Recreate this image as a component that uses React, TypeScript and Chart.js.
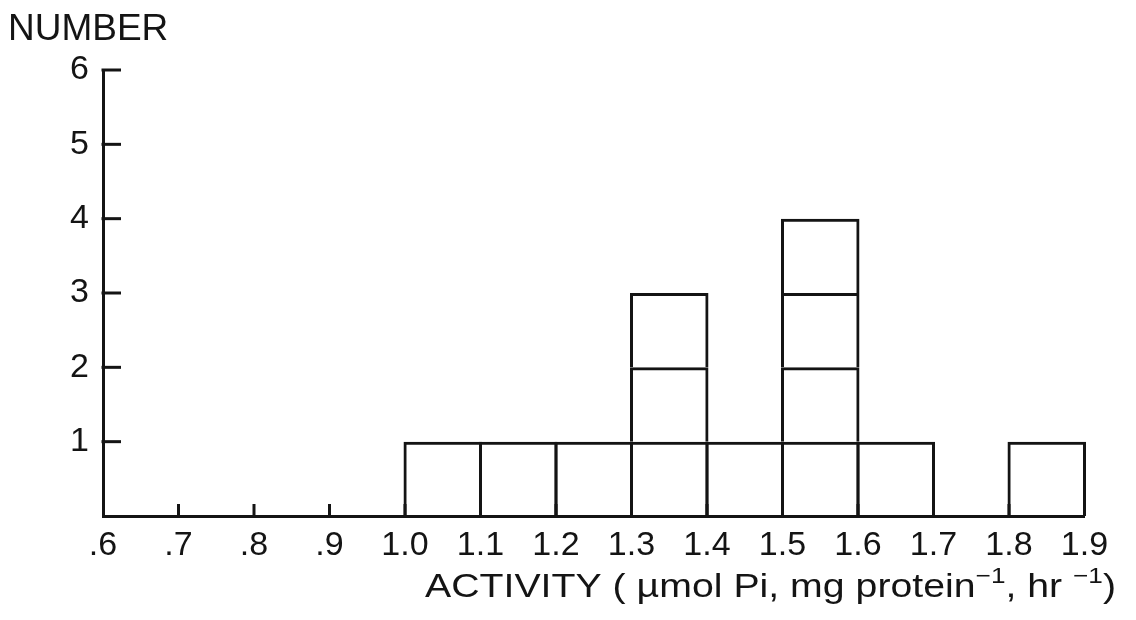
import React, { useEffect, useRef } from 'react';
import { Chart, registerables } from 'chart.js';

Chart.register(...registerables);

// ---- data ----
const binStarts = [1.0, 1.1, 1.2, 1.3, 1.4, 1.5, 1.6, 1.7, 1.8];
const binCounts = [1, 1, 1, 3, 1, 4, 1, 0, 1];
const binWidth = 0.1;

const xTickValues = [0.6, 0.7, 0.8, 0.9, 1.0, 1.1, 1.2, 1.3, 1.4, 1.5, 1.6, 1.7, 1.8, 1.9];
const xTickLabels = ['.6', '.7', '.8', '.9', '1.0', '1.1', '1.2', '1.3', '1.4', '1.5', '1.6', '1.7', '1.8', '1.9'];
const yTickValues = [1, 2, 3, 4, 5, 6];
const yTickLabels = ['1', '2', '3', '4', '5', '6'];

const yAxisTitle = 'NUMBER';
const xAxisTitleParts: [string, boolean][] = [
  ['ACTIVITY ( µmol Pi, mg protein', false],
  ['−1', true],
  [', hr ', false],
  ['−1', true],
  [')', false],
];

const INK = '#141414';
const FONT = '"Liberation Sans", Arial, sans-serif';

// one dataset per stacked level: a unit box wherever the bin count exceeds that level
const maxCount = Math.max(...binCounts);
const levels = Array.from({ length: maxCount }, (_, k) =>
  binStarts
    .map((s, i) => ({ x: s + binWidth / 2, y: 1, c: binCounts[i] }))
    .filter((p) => p.c > k)
    .map((p) => ({ x: p.x, y: p.y }))
);

const decorPlugin = {
  id: 'decor',
  afterDraw(chart: any) {
    const { ctx, chartArea, scales } = chart;
    const xs = scales.x;
    const ys = scales.y;
    ctx.save();
    ctx.strokeStyle = INK;
    ctx.lineWidth = 3;
    ctx.lineCap = 'butt';
    // inward tick marks on y
    yTickValues.forEach((v) => {
      const py = ys.getPixelForValue(v);
      ctx.beginPath();
      ctx.moveTo(chartArea.left - 1.5, py);
      ctx.lineTo(chartArea.left + 18, py);
      ctx.stroke();
    });
    // inward tick marks on x
    xTickValues.slice(1).forEach((v) => {
      const px = xs.getPixelForValue(v);
      ctx.beginPath();
      ctx.moveTo(px, chartArea.bottom);
      ctx.lineTo(px, chartArea.bottom - 12);
      ctx.stroke();
    });
    // titles
    ctx.fillStyle = INK;
    ctx.textBaseline = 'alphabetic';
    ctx.textAlign = 'left';
    ctx.font = `37px ${FONT}`;
    ctx.fillText(yAxisTitle, 8, 40);

    const mainFont = `33px ${FONT}`;
    const supFont = `22px ${FONT}`;
    let total = 0;
    xAxisTitleParts.forEach(([t, sup]) => {
      ctx.font = sup ? supFont : mainFont;
      total += ctx.measureText(t).width;
    });
    const startX = 425;
    const endX = 1116;
    const sx = (endX - startX) / total;
    ctx.translate(startX, 597);
    ctx.scale(sx, 1);
    let cx = 0;
    xAxisTitleParts.forEach(([t, sup]) => {
      ctx.font = sup ? supFont : mainFont;
      ctx.fillText(t, cx, sup ? -14 : 0);
      cx += ctx.measureText(t).width;
    });
    ctx.restore();
  },
};

export default function App() {
  const canvasRef = useRef<HTMLCanvasElement | null>(null);

  useEffect(() => {
    if (!canvasRef.current) return;
    const chart = new Chart(canvasRef.current, {
      type: 'bar',
      data: {
        datasets: levels.map((pts, k) => ({
          label: `level ${k + 1}`,
          data: pts,
          backgroundColor: 'rgba(0,0,0,0)',
          borderColor: INK,
          borderWidth: { top: 3, left: 3, right: 3, bottom: 0 },
          borderSkipped: false,
          inflateAmount: 0,
          barPercentage: 1.04,
          categoryPercentage: 1,
          clip: false,
        })),
      },
      options: {
        animation: false,
        responsive: true,
        maintainAspectRatio: false,
        layout: { padding: { top: 70, right: 51.5, left: 0, bottom: 0 } },
        plugins: {
          legend: { display: false },
          tooltip: { enabled: false },
          title: { display: false },
        },
        scales: {
          x: {
            type: 'linear',
            min: 0.6,
            max: 1.9,
            stacked: true,
            offset: false,
            grid: { display: false },
            border: { display: true, color: INK, width: 3 },
            afterBuildTicks: (scale: any) => {
              scale.ticks = xTickValues.map((v) => ({ value: v }));
            },
            afterFit: (scale: any) => {
              scale.height = 104;
            },
            ticks: {
              autoSkip: false,
              maxRotation: 0,
              padding: 1,
              color: INK,
              font: { family: FONT, size: 34 },
              callback: (_v: any, i: number) => xTickLabels[i],
            },
          },
          y: {
            type: 'linear',
            min: 0,
            max: 6,
            stacked: true,
            grid: { display: false },
            border: { display: true, color: INK, width: 3 },
            afterBuildTicks: (scale: any) => {
              scale.ticks = yTickValues.map((v) => ({ value: v }));
            },
            afterFit: (scale: any) => {
              scale.width = 103;
            },
            ticks: {
              padding: 6,
              color: INK,
              font: { family: FONT, size: 34 },
              callback: (_v: any, i: number) => yTickLabels[i],
            },
          },
        },
      },
      plugins: [decorPlugin],
    });
    return () => chart.destroy();
  }, []);

  return (
    <div style={{ position: 'absolute', left: 0, top: 0, width: 1136, height: 620, background: '#fff' }}>
      <canvas ref={canvasRef} />
    </div>
  );
}
